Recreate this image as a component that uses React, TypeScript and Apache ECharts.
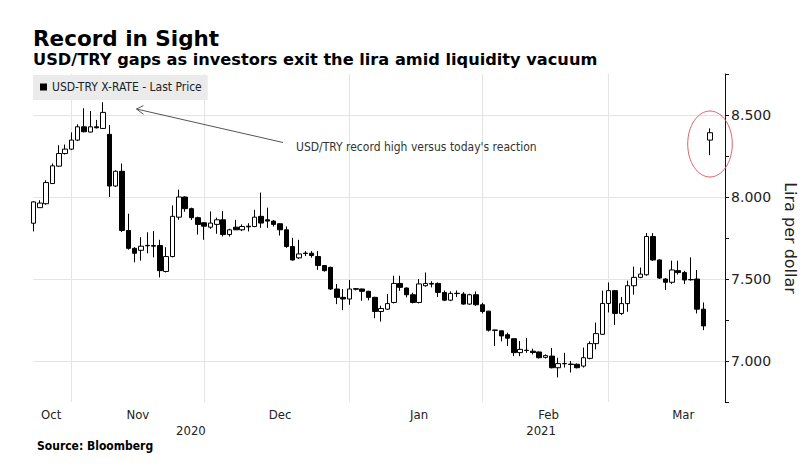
import React, { useEffect, useRef } from "react";
import * as echarts from "echarts";

// Daily candles, 22 Oct 2020 – 22 Mar 2021 (weekdays), index 0..107
const OPEN = [
  7.84, 7.935, 7.959, 8.082, 8.188, 8.265, 8.292, 8.347, 8.428, 8.396,
  8.428, 8.418, 8.382, 8.067, 8.157, 7.796, 7.687, 7.675, 7.705, 7.704,
  7.704, 7.546, 7.637, 7.877, 8.0, 7.929, 7.874, 7.843, 7.816, 7.833,
  7.861, 7.771, 7.816, 7.8, 7.822, 7.82, 7.882, 7.861, 7.853, 7.837,
  7.8, 7.698, 7.629, 7.658, 7.657, 7.637, 7.582, 7.571, 7.439, 7.388,
  7.378, 7.441, 7.439, 7.425, 7.388, 7.302, 7.316, 7.357, 7.473, 7.445,
  7.404, 7.357, 7.459, 7.473, 7.473, 7.418, 7.371, 7.413, 7.408, 7.347,
  7.404, 7.343, 7.304, 7.189, 7.184, 7.16, 7.136, 7.051, 7.066, 7.06,
  7.055, 7.022, 7.03, 6.959, 6.985, 6.981, 6.98, 6.969, 7.016, 7.106,
  7.163, 7.351, 7.429, 7.29, 7.35, 7.459, 7.51, 7.526, 7.759, 7.616,
  7.5, 7.48, 7.551, 7.539, 7.497, 7.5, 7.316, 8.347,
];
const CLOSE = [
  7.97, 7.963, 8.088, 8.19, 8.265, 8.292, 8.347, 8.428, 8.398, 8.428,
  8.422, 8.516, 8.067, 8.157, 7.796, 7.687, 7.657, 7.7, 7.702, 7.7,
  7.551, 7.637, 7.882, 8.0, 7.929, 7.874, 7.833, 7.822, 7.841, 7.861,
  7.771, 7.8, 7.8, 7.82, 7.818, 7.877, 7.841, 7.853, 7.833, 7.8,
  7.698, 7.616, 7.653, 7.655, 7.643, 7.582, 7.551, 7.439, 7.388, 7.378,
  7.439, 7.438, 7.425, 7.388, 7.302, 7.32, 7.35, 7.473, 7.449, 7.404,
  7.357, 7.47, 7.473, 7.469, 7.418, 7.371, 7.412, 7.411, 7.347, 7.404,
  7.343, 7.302, 7.188, 7.187, 7.153, 7.139, 7.051, 7.071, 7.064, 7.052,
  7.02, 7.033, 6.959, 6.984, 6.983, 6.979, 6.959, 7.02, 7.106, 7.167,
  7.351, 7.429, 7.29, 7.35, 7.459, 7.51, 7.53, 7.759, 7.616, 7.506,
  7.48, 7.555, 7.539, 7.494, 7.495, 7.316, 7.214, 8.392,
];
const LOW = [
  7.79, 7.935, 7.953, 8.08, 8.183, 8.259, 8.286, 8.341, 8.394, 8.394,
  8.418, 8.415, 8.0, 8.061, 7.786, 7.679, 7.602, 7.612, 7.657, 7.632,
  7.51, 7.54, 7.632, 7.861, 7.91, 7.86, 7.771, 7.739, 7.806, 7.776,
  7.759, 7.759, 7.8, 7.792, 7.79, 7.816, 7.812, 7.812, 7.82, 7.765,
  7.69, 7.612, 7.622, 7.64, 7.63, 7.555, 7.545, 7.433, 7.347, 7.31,
  7.343, 7.43, 7.367, 7.37, 7.261, 7.24, 7.312, 7.351, 7.428, 7.388,
  7.351, 7.351, 7.453, 7.449, 7.39, 7.365, 7.365, 7.39, 7.343, 7.343,
  7.337, 7.29, 7.18, 7.092, 7.12, 7.092, 7.03, 7.03, 7.05, 7.04,
  7.015, 7.015, 6.955, 6.9, 6.96, 6.93, 6.955, 6.96, 7.01, 7.071,
  7.159, 7.296, 7.22, 7.28, 7.3, 7.404, 7.505, 7.52, 7.61, 7.5,
  7.433, 7.47, 7.527, 7.469, 7.49, 7.29, 7.188, 8.255,
];
const HIGH = [
  7.975, 7.98, 8.102, 8.204, 8.316, 8.32, 8.394, 8.443, 8.541, 8.524,
  8.47, 8.578, 8.439, 8.163, 8.204, 7.898, 7.694, 7.755, 7.785, 7.792,
  7.739, 7.694, 7.949, 8.045, 8.004, 7.935, 7.88, 7.847, 7.912, 7.874,
  7.914, 7.806, 7.861, 7.833, 7.84, 7.922, 8.027, 7.935, 7.86, 7.84,
  7.82, 7.751, 7.739, 7.67, 7.67, 7.67, 7.585, 7.575, 7.47, 7.439,
  7.494, 7.445, 7.442, 7.428, 7.392, 7.337, 7.408, 7.52, 7.52, 7.449,
  7.416, 7.5, 7.54, 7.486, 7.479, 7.43, 7.425, 7.43, 7.42, 7.41,
  7.424, 7.355, 7.306, 7.19, 7.186, 7.173, 7.138, 7.122, 7.14, 7.075,
  7.058, 7.04, 7.08, 7.02, 7.05, 7.0, 6.985, 7.082, 7.12, 7.234,
  7.429, 7.479, 7.432, 7.39, 7.49, 7.575, 7.57, 7.78, 7.78, 7.62,
  7.506, 7.612, 7.612, 7.55, 7.632, 7.555, 7.357, 8.418,
];

const SERIES_NAME = "USD-TRY X-RATE - Last Price";
const MONTH_LABELS = ["Oct", "Nov", "Dec", "Jan", "Feb", "Mar"];
const MONTH_LABEL_POS = [2.8, 16.5, 39, 61, 81.5, 102.8];
const YEAR_LABELS = ["2020", "2021"];
const YEAR_LABEL_POS = [24.9, 80.3];
const MONTH_END_IDX = [6, 27, 50, 71, 91]; // last trading day of Oct, Nov, Dec, Jan, Feb
const Y_GRID = [7.0, 7.5, 8.0, 8.5];
const X_MAX = 109.4;

const SANS = '"DejaVu Sans", "Noto Sans", sans-serif';
const COND = '"DejaVu Sans Condensed", "DejaVu Sans", sans-serif';

function nearestLabel(v: number, pos: number[], labels: string[]) {
  let best = 0;
  for (let i = 1; i < pos.length; i++) {
    if (Math.abs(pos[i] - v) < Math.abs(pos[best] - v)) best = i;
  }
  return labels[best];
}

export default function App() {
  const ref = useRef<HTMLDivElement>(null);

  useEffect(() => {
    if (!ref.current) return;
    const chart = echarts.init(ref.current, null, { renderer: "svg" });
    const candles = OPEN.map((o, i) => [i, o, CLOSE[i], LOW[i], HIGH[i]]);

    chart.setOption({
      animation: false,
      backgroundColor: "#ffffff",
      title: [
        {
          text: "Record in Sight",
          left: 33,
          top: 27.5,
          padding: 0,
          textStyle: { fontSize: 21.5, fontWeight: "bold", fontFamily: SANS, color: "#000" },
        },
        {
          text: "USD/TRY gaps as investors exit the lira amid liquidity vacuum",
          left: 33,
          top: 51.5,
          padding: 0,
          textStyle: { fontSize: 16.2, fontWeight: "bold", fontFamily: SANS, color: "#000" },
        },
        {
          text: "Source: Bloomberg",
          left: 37,
          top: 440,
          padding: 0,
          textStyle: { fontSize: 12, fontWeight: "bold", fontFamily: COND, color: "#000" },
        },
      ],
      legend: {
        left: 33,
        top: 75,
        backgroundColor: "#ebebeb",
        padding: [6, 6, 7, 7],
        itemWidth: 7,
        itemHeight: 7,
        selectedMode: false,
        textStyle: { fontSize: 12, fontFamily: COND, color: "#222" },
        data: [{ name: SERIES_NAME, icon: "rect", itemStyle: { color: "#000", borderWidth: 0 } }],
        z: 10,
      },
      grid: { left: 33.5, top: 74, width: 702, height: 328, containLabel: false },
      xAxis: [
        {
          type: "value",
          min: 0,
          max: X_MAX,
          position: "bottom",
          axisLine: { show: false },
          axisTick: { show: false },
          splitLine: { show: false },
          axisLabel: {
            customValues: MONTH_LABEL_POS,
            formatter: (v: number) => nearestLabel(v, MONTH_LABEL_POS, MONTH_LABELS),
            margin: 5.5,
            fontSize: 13,
            fontFamily: COND,
            color: "#222",
          },
        },
        {
          type: "value",
          min: 0,
          max: X_MAX,
          position: "bottom",
          offset: 16,
          axisLine: { show: false },
          axisTick: { show: false },
          splitLine: { show: false },
          axisLabel: {
            customValues: YEAR_LABEL_POS,
            formatter: (v: number) => nearestLabel(v, YEAR_LABEL_POS, YEAR_LABELS),
            margin: 5.5,
            fontSize: 13,
            fontFamily: COND,
            color: "#222",
          },
        },
      ],
      yAxis: {
        type: "value",
        position: "right",
        min: 6.75,
        max: 8.75,
        interval: 0.25,
        name: "Lira per dollar",
        nameLocation: "middle",
        nameRotate: -90,
        nameGap: 52,
        nameTextStyle: { fontSize: 16, fontFamily: SANS, color: "#222" },
        axisLine: { show: true, onZero: false, lineStyle: { color: "#111", width: 1 } },
        axisTick: { show: true, inside: false, length: 4, lineStyle: { color: "#111" } },
        splitLine: { show: false },
        axisLabel: {
          margin: 6,
          fontSize: 14,
          fontFamily: SANS,
          color: "#222",
          formatter: (v: number) => {
            const r = Math.round(v * 2) / 2;
            return Math.abs(v - r) < 1e-6 && v > 6.9 && v < 8.6 ? v.toFixed(3) : "";
          },
        },
      },
      series: [
        {
          type: "candlestick",
          name: SERIES_NAME,
          xAxisIndex: 0,
          data: candles,
          encode: { x: 0, y: [1, 2, 3, 4] },
          barWidth: 5,
          clip: true,
          z: 3,
          itemStyle: {
            color: "#ffffff",
            color0: "#000000",
            borderColor: "#000000",
            borderColor0: "#000000",
            borderWidth: 1,
          },
          markLine: {
            silent: true,
            z: 1,
            symbol: ["none", "none"],
            label: { show: false },
            lineStyle: { color: "#e4e4e4", width: 1, type: "solid" },
            data: [
              ...MONTH_END_IDX.map((x) => ({ xAxis: x })),
              ...Y_GRID.map((y) => ({ yAxis: y })),
            ],
          },
        },
      ],
      graphic: [
        {
          type: "line",
          shape: { x1: 283, y1: 142.5, x2: 136.5, y2: 109 },
          style: { stroke: "#555", lineWidth: 1 },
          z: 20,
        },
        {
          type: "polyline",
          shape: { points: [[143.5, 105.6], [136.5, 109], [143.5, 114.3]] },
          style: { stroke: "#555", lineWidth: 1, fill: "none" },
          z: 20,
        },
        {
          type: "text",
          x: 296,
          y: 146.7,
          style: {
            text: "USD/TRY record high versus today's reaction",
            fontSize: 12,
            fontFamily: COND,
            fill: "#333",
            verticalAlign: "middle",
          },
          z: 20,
        },
        {
          type: "ellipse",
          shape: { cx: 710, cy: 144, rx: 22.3, ry: 33 },
          style: { fill: "none", stroke: "#e0606a", lineWidth: 1 },
          z: 20,
        },
      ],
    });

    return () => chart.dispose();
  }, []);

  return (
    <div
      ref={ref}
      style={{ position: "absolute", left: 0, top: 0, width: 806, height: 474, background: "#fff" }}
    />
  );
}
